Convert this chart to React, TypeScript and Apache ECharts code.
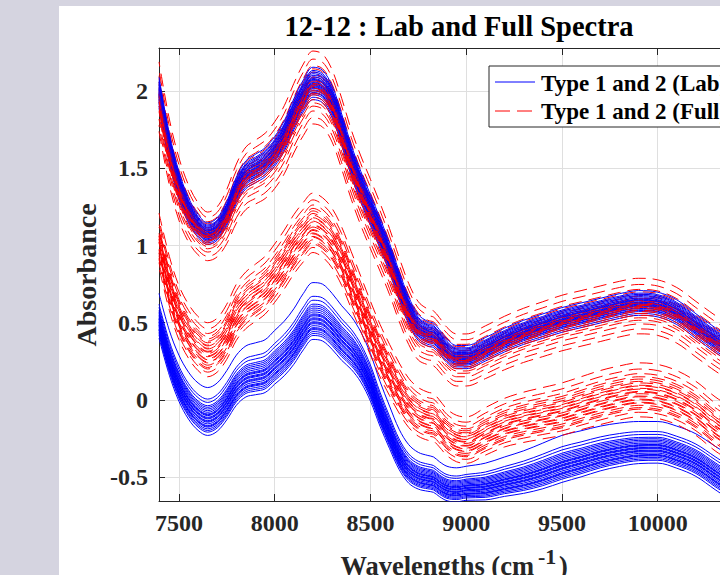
import React, { useEffect, useRef } from 'react';
import * as echarts from 'echarts';

const WAVENUMBERS = [7396, 7450, 7500, 7550, 7600, 7650, 7700, 7750, 7800, 7850, 7900, 7950, 8000, 8050, 8100, 8150, 8200, 8250, 8300, 8350, 8400, 8450, 8500, 8550, 8600, 8650, 8700, 8750, 8800, 8830, 8860, 8900, 8950, 9000, 9100, 9200, 9300, 9400, 9500, 9600, 9700, 9800, 9900, 10000, 10100, 10200, 10300, 10400];

// upper group (lab + full overlapping) – centre spectrum
const UPPER_BASE = [1.98, 1.62, 1.38, 1.22, 1.12, 1.07, 1.10, 1.20, 1.35, 1.45, 1.49, 1.53, 1.60, 1.70, 1.84, 1.96, 2.04, 2.02, 1.92, 1.74, 1.54, 1.37, 1.22, 1.07, 0.91, 0.73, 0.57, 0.46, 0.42, 0.41, 0.37, 0.31, 0.27, 0.27, 0.32, 0.38, 0.43, 0.47, 0.51, 0.54, 0.57, 0.60, 0.62, 0.61, 0.56, 0.47, 0.38, 0.30];
// spread of the upper group around its centre, per wavenumber
const UPPER_SPREAD = [1.0, 0.95, 0.9, 0.82, 0.75, 0.7, 0.72, 0.78, 0.85, 0.9, 0.92, 0.94, 0.96, 0.98, 1.0, 1.03, 1.05, 1.05, 1.04, 1.02, 1.0, 1.0, 1.0, 0.98, 0.95, 0.92, 0.88, 0.84, 0.8, 0.79, 0.78, 0.76, 0.75, 0.75, 0.76, 0.77, 0.78, 0.79, 0.8, 0.8, 0.8, 0.8, 0.8, 0.8, 0.8, 0.8, 0.8, 0.8];
// middle group (full spectra) – top spectrum
const MIDDLE_BASE = [1.21, 0.93, 0.74, 0.62, 0.54, 0.50, 0.53, 0.62, 0.75, 0.83, 0.88, 0.93, 1.01, 1.10, 1.20, 1.28, 1.34, 1.31, 1.24, 1.12, 0.96, 0.80, 0.64, 0.49, 0.36, 0.24, 0.14, 0.08, 0.05, 0.04, 0.00, -0.06, -0.10, -0.11, -0.05, 0.01, 0.05, 0.08, 0.11, 0.15, 0.19, 0.22, 0.24, 0.23, 0.19, 0.12, 0.02, -0.06];
const MIDDLE_SPREAD = [1.0, 1.0, 1.0, 1.0, 1.0, 1.0, 1.0, 1.02, 1.04, 1.05, 1.06, 1.07, 1.08, 1.09, 1.1, 1.1, 1.1, 1.1, 1.1, 1.08, 1.05, 1.02, 1.0, 0.97, 0.95, 0.93, 0.91, 0.9, 0.89, 0.88, 0.87, 0.86, 0.86, 0.86, 0.88, 0.9, 0.93, 0.95, 0.97, 0.98, 1.0, 1.0, 1.0, 1.0, 1.0, 1.0, 1.0, 1.0];
// lower group (lab spectra) – top spectrum
const LOWER_BASE = [0.69, 0.45, 0.29, 0.18, 0.11, 0.08, 0.11, 0.19, 0.29, 0.35, 0.37, 0.39, 0.45, 0.51, 0.59, 0.69, 0.76, 0.75, 0.69, 0.61, 0.54, 0.44, 0.30, 0.12, -0.04, -0.19, -0.29, -0.34, -0.36, -0.37, -0.40, -0.43, -0.44, -0.43, -0.41, -0.37, -0.33, -0.28, -0.23, -0.20, -0.17, -0.15, -0.14, -0.14, -0.17, -0.22, -0.30, -0.38];
const LOWER_SPREAD = [1.0, 1.0, 1.03, 1.05, 1.06, 1.07, 1.08, 1.1, 1.12, 1.14, 1.16, 1.18, 1.2, 1.22, 1.24, 1.26, 1.27, 1.27, 1.25, 1.22, 1.18, 1.12, 1.06, 1.0, 0.95, 0.9, 0.86, 0.82, 0.8, 0.79, 0.78, 0.77, 0.76, 0.76, 0.82, 0.88, 0.95, 1.02, 1.05, 1.03, 1.0, 0.97, 0.94, 0.93, 0.94, 0.95, 0.97, 0.98];

const UPPER_LAB_OFFSETS = [-0.09, -0.075, -0.06, -0.05, -0.045, -0.035, -0.03, -0.02, -0.015, -0.01, -0.005, 0, 0.005, 0.01, 0.015, 0.02, 0.03, 0.035, 0.04, 0.05, 0.06, 0.07, 0.08, 0.09, 0.11];
const UPPER_FULL_OFFSETS = [-0.24, -0.2, -0.16, -0.13, -0.11, -0.09, -0.075, -0.06, -0.05, -0.035, -0.025, -0.02, -0.01, 0, 0.01, 0.025, 0.03, 0.045, 0.05, 0.065, 0.08, 0.1, 0.12, 0.16, 0.21];
const MIDDLE_FULL_OFFSETS = [0, -0.04, -0.07, -0.09, -0.105, -0.12, -0.13, -0.145, -0.15, -0.165, -0.17, -0.185, -0.19, -0.2, -0.215, -0.22, -0.235, -0.24, -0.255, -0.26, -0.275, -0.29, -0.3, -0.32, -0.35];
const LOWER_LAB_OFFSETS = [0, -0.07, -0.09, -0.11, -0.12, -0.13, -0.14, -0.15, -0.16, -0.165, -0.17, -0.18, -0.185, -0.19, -0.2, -0.205, -0.21, -0.22, -0.23, -0.235, -0.24, -0.25, -0.26, -0.27, -0.29];

// dash phase of each red dashed spectrum (line style, not data)
const DASH_PHASES = [0, 11, 4, 15, 7, 18, 2, 13, 9, 5, 16, 1, 12, 8, 19, 3, 14, 6, 17, 10, 0.5, 11.5, 4.5, 15.5, 7.5];

const TITLE = '12-12 : Lab and Full Spectra';
const LEGEND_LABELS = ['Type 1 and 2 (Lab)', 'Type 1 and 2 (Full)'];
const Y_LABEL = 'Absorbance';
const X_LABEL = 'Wavelengths (cm';
const X_LABEL_SUP = '-1';

const BLUE = '#0000ff';
const RED = '#ff0000';
const FONT = '"Liberation Serif", "Times New Roman", serif';
const DASH = [13, 7];

function spectra(base: number[], spread: number[], offsets: number[]) {
  return offsets.map((o) => WAVENUMBERS.map((w, j) => [w, +(base[j] + o * spread[j]).toFixed(4)]));
}

function lineSeries(data: number[][], color: string, dashed: boolean, phase: number) {
  return {
    type: 'line',
    data,
    symbol: 'none',
    smooth: 0.35,
    silent: true,
    xAxisIndex: 0,
    yAxisIndex: 0,
    lineStyle: dashed
      ? { color, width: 1, type: DASH, dashOffset: phase }
      : { color, width: 1, type: 'solid' },
    emphasis: { disabled: true },
  };
}

export default function App() {
  const ref = useRef<HTMLDivElement>(null);
  useEffect(() => {
    if (!ref.current) return;
    const chart = echarts.init(ref.current, null, { renderer: 'svg' });
    const series: any[] = [];
    spectra(LOWER_BASE, LOWER_SPREAD, LOWER_LAB_OFFSETS).forEach((d) => series.push(lineSeries(d, BLUE, false, 0)));
    spectra(MIDDLE_BASE, MIDDLE_SPREAD, MIDDLE_FULL_OFFSETS).forEach((d, i) =>
      series.push(lineSeries(d, RED, true, DASH_PHASES[(i * 7) % DASH_PHASES.length])));
    const ub = spectra(UPPER_BASE, UPPER_SPREAD, UPPER_LAB_OFFSETS);
    const ur = spectra(UPPER_BASE, UPPER_SPREAD, UPPER_FULL_OFFSETS);
    for (let i = 0; i < Math.max(ub.length, ur.length); i++) {
      if (ub[i]) series.push(lineSeries(ub[i], BLUE, false, 0));
      if (ur[i]) series.push(lineSeries(ur[i], RED, true, DASH_PHASES[i]));
    }
    const axisColor = '#262626';
    const labelStyle = { color: axisColor, fontFamily: FONT, fontWeight: 'bold', fontSize: 24 };
    chart.setOption({
      animation: false,
      backgroundColor: '#ffffff',
      grid: { left: 100, top: 42, width: 594.4, height: 453, containLabel: false, outerBoundsMode: 'none' },
      xAxis: [
        {
          type: 'value', min: 7396, max: 10500, splitNumber: 5, position: 'bottom',
          axisLine: { show: true, onZero: false, lineStyle: { color: axisColor, width: 1 } },
          axisTick: { show: true, inside: true, length: 7, lineStyle: { color: axisColor } },
          axisLabel: { ...labelStyle, margin: 10, showMinLabel: false, showMaxLabel: false, formatter: (v: number) => String(v) },
          splitLine: { show: true, lineStyle: { color: '#dfdfdf', width: 1 } },
        },
        {
          type: 'value', min: 7396, max: 10500, splitNumber: 5, position: 'top',
          axisLine: { show: true, onZero: false, lineStyle: { color: axisColor, width: 1 } },
          axisTick: { show: true, inside: true, length: 7, lineStyle: { color: axisColor } },
          axisLabel: { show: false },
          splitLine: { show: false },
        },
      ],
      yAxis: [
        {
          type: 'value', min: -0.655, max: 2.28, splitNumber: 5,
          axisLine: { show: true, onZero: false, lineStyle: { color: axisColor, width: 1 } },
          axisTick: { show: true, inside: true, length: 6, lineStyle: { color: axisColor } },
          axisLabel: { ...labelStyle, margin: 11, showMinLabel: false, showMaxLabel: false },
          splitLine: { show: true, lineStyle: { color: '#dfdfdf', width: 1 } },
        },
      ],
      series,
      graphic: [
        {
          type: 'text', x: 400, y: 20, z: 100,
          style: { text: TITLE, font: `bold 28.5px ${FONT}`, fill: '#000', textAlign: 'center', textVerticalAlign: 'middle' },
        },
        {
          type: 'text', x: 27, y: 269, rotation: Math.PI / 2, z: 100,
          style: { text: Y_LABEL, font: `bold 28px ${FONT}`, fill: axisColor, textAlign: 'center', textVerticalAlign: 'middle' },
        },
        {
          type: 'text', x: 475, y: 560, z: 100,
          style: { text: X_LABEL, font: `bold 26.5px ${FONT}`, fill: axisColor, textAlign: 'right', textVerticalAlign: 'middle' },
        },
        {
          type: 'text', x: 479, y: 550, z: 100,
          style: { text: X_LABEL_SUP, font: `bold 22px ${FONT}`, fill: axisColor, textAlign: 'left', textVerticalAlign: 'middle' },
        },
        {
          type: 'text', x: 500, y: 560, z: 100,
          style: { text: ')', font: `bold 26.5px ${FONT}`, fill: axisColor, textAlign: 'left', textVerticalAlign: 'middle' },
        },
        {
          type: 'rect', z: 100,
          shape: { x: 430, y: 60, width: 262, height: 61 },
          style: { fill: '#ffffff', stroke: axisColor, lineWidth: 1 },
        },
        {
          type: 'line', z: 101,
          shape: { x1: 436, y1: 76, x2: 476, y2: 76 },
          style: { stroke: BLUE, lineWidth: 1 },
        },
        {
          type: 'line', z: 101,
          shape: { x1: 436, y1: 105, x2: 476, y2: 105 },
          style: { stroke: RED, lineWidth: 1, lineDash: [15, 7] },
        },
        {
          type: 'text', x: 482, y: 77, z: 101,
          style: { text: LEGEND_LABELS[0], font: `bold 23px ${FONT}`, fill: '#000', textAlign: 'left', textVerticalAlign: 'middle' },
        },
        {
          type: 'text', x: 482, y: 105, z: 101,
          style: { text: LEGEND_LABELS[1], font: `bold 23px ${FONT}`, fill: '#000', textAlign: 'left', textVerticalAlign: 'middle' },
        },
      ],
    });
    return () => chart.dispose();
  }, []);

  return (
    <div style={{ position: 'fixed', left: 0, top: 0, width: 720, height: 575, overflow: 'hidden', background: '#d5d4e0' }}>
      <div ref={ref} style={{ position: 'absolute', left: 59, top: 6, width: 720, height: 600, background: '#ffffff' }} />
    </div>
  );
}
